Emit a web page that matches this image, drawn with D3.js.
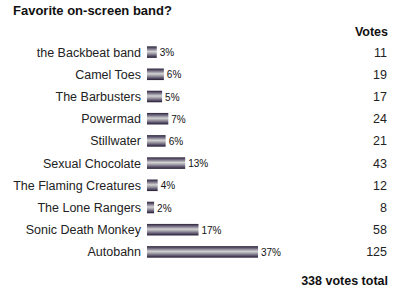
<!DOCTYPE html>
<html lang="en">
<head>
    <meta charset="UTF-8">
    <title>Favorite on-screen band?</title>
    <style>
body {
    margin: 0;
    background-color: white;
    font-family: "Liberation Sans", Arial, sans-serif;
}
    </style>
</head>
<body>
    <svg id="chart"></svg>
    <script src="https://d3js.org/d3.v7.min.js"></script>
    <script>
// Daten
const bands = ["the Backbeat band", "Camel Toes", "The Barbusters", "Powermad", "Stillwater",
    "Sexual Chocolate", "The Flaming Creatures", "The Lone Rangers", "Sonic Death Monkey", "Autobahn"];
const votes = [11, 19, 17, 24, 21, 43, 12, 8, 58, 125];
const percents = [3, 6, 5, 7, 6, 13, 4, 2, 17, 37];
const totalLabel = "338 votes total";

const width = 399, height = 295;

const svg = d3.select("#chart")
    .attr("width", width)
    .attr("height", height);

// Gradient fuer die Balken
const grad = svg.append("defs").append("linearGradient")
    .attr("id", "barGrad")
    .attr("x1", 0).attr("y1", 0).attr("x2", 0).attr("y2", 1);
[[0, "#2a2238"], [0.2, "#726a80"], [0.45, "#d2d2d2"], [0.6, "#a8a6ad"], [0.85, "#554c66"], [1, "#221a2e"]]
    .forEach(s => grad.append("stop").attr("offset", s[0]).attr("stop-color", s[1]));

const y = d3.scaleBand()
    .domain(bands)
    .range([41, 263])
    .paddingInner(0.48)
    .paddingOuter(0.24);

const x = d3.scaleLinear()
    .domain([0, 125])
    .range([147, 258]);

// Titel
svg.append("text")
    .attr("x", 13).attr("y", 15)
    .attr("font-size", 13).attr("font-weight", "bold")
    .attr("fill", "#111")
    .text("Favorite on-screen band?");

svg.append("text")
    .attr("x", 388).attr("y", 36)
    .attr("text-anchor", "end")
    .attr("font-size", 12.5).attr("font-weight", "bold")
    .attr("fill", "#111")
    .text("Votes");

const row = svg.append("g").selectAll("g")
    .data(bands)
    .join("g");

row.append("text")
    .attr("x", 141)
    .attr("y", d => y(d) + y.bandwidth() / 2)
    .attr("dy", "0.36em")
    .attr("text-anchor", "end")
    .attr("font-size", 12.5)
    .attr("fill", "#222")
    .text(d => d);

row.append("rect")
    .attr("x", x(0))
    .attr("y", d => y(d))
    .attr("width", (d, i) => x(votes[i]) - x(0))
    .attr("height", y.bandwidth())
    .attr("fill", "url(#barGrad)");

row.append("text")
    .attr("x", (d, i) => x(votes[i]) + 3)
    .attr("y", d => y(d) + y.bandwidth() / 2)
    .attr("dy", "0.4em")
    .attr("font-size", 10)
    .attr("fill", "#111")
    .text((d, i) => percents[i] + "%");

row.append("text")
    .attr("x", 387)
    .attr("y", d => y(d) + y.bandwidth() / 2)
    .attr("dy", "0.36em")
    .attr("text-anchor", "end")
    .attr("font-size", 12.5)
    .attr("fill", "#222")
    .text((d, i) => votes[i]);

svg.append("text")
    .attr("x", 388).attr("y", 285)
    .attr("text-anchor", "end")
    .attr("font-size", 12.5).attr("font-weight", "bold")
    .attr("fill", "#111")
    .text(totalLabel);
    </script>
</body>
</html>
